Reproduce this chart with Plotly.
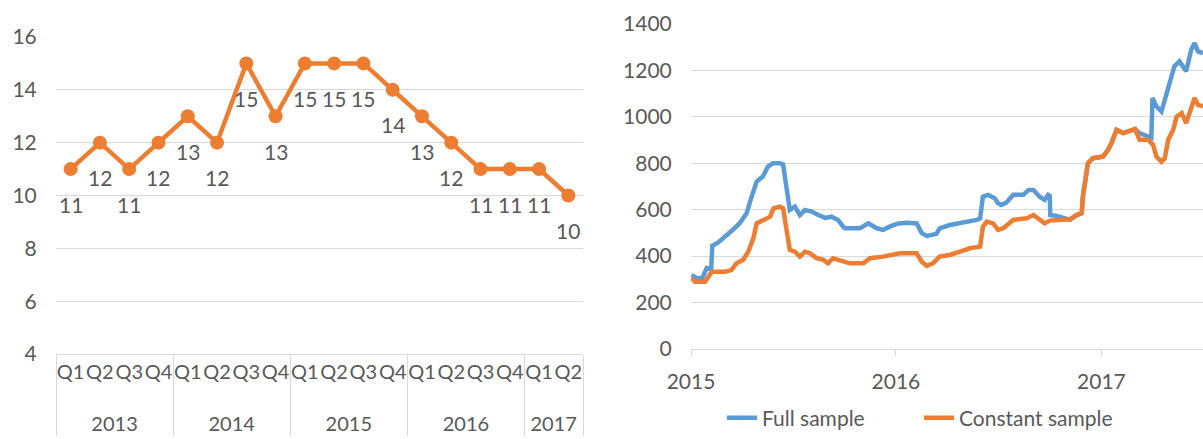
import plotly.graph_objects as go

# ---------------- Left chart data ----------------
years = ["2013"] * 4 + ["2014"] * 4 + ["2015"] * 4 + ["2016"] * 4 + ["2017"] * 2
quarters = ["Q1", "Q2", "Q3", "Q4"] * 4 + ["Q1", "Q2"]
counts = [11, 12, 11, 12, 13, 12, 15, 13, 15, 15, 15, 14, 13, 12, 11, 11, 11, 10]

# ---------------- Right chart data ----------------
full_dates = [
    "2015-01-02", "2015-01-11", "2015-01-21", "2015-01-29", "2015-02-06", "2015-02-08",
    "2015-02-18", "2015-03-03", "2015-03-11", "2015-03-20", "2015-03-29", "2015-04-10",
    "2015-04-19", "2015-04-28", "2015-05-09", "2015-05-18", "2015-05-27", "2015-06-08",
    "2015-06-14", "2015-06-20", "2015-06-26", "2015-07-05", "2015-07-14", "2015-07-23",
    "2015-08-04", "2015-08-15", "2015-08-28", "2015-09-08", "2015-09-20", "2015-09-29",
    "2015-10-02", "2015-10-29", "2015-11-13", "2015-11-28", "2015-12-09", "2015-12-21",
    "2016-01-05", "2016-01-20", "2016-02-07", "2016-02-16", "2016-02-25", "2016-03-13",
    "2016-03-19", "2016-04-06", "2016-04-24", "2016-05-06", "2016-05-24", "2016-05-30",
    "2016-06-04", "2016-06-13", "2016-06-25", "2016-07-01", "2016-07-07", "2016-07-16",
    "2016-07-28", "2016-08-15", "2016-08-24", "2016-09-02", "2016-09-13", "2016-09-22",
    "2016-09-28", "2016-10-01", "2016-10-02", "2016-10-13", "2016-10-31", "2016-11-06",
    "2016-11-18", "2016-11-27", "2016-11-29", "2016-12-06", "2016-12-08", "2016-12-17",
    "2017-01-04", "2017-01-13", "2017-01-19", "2017-01-28", "2017-02-09", "2017-02-18",
    "2017-03-02", "2017-03-10", "2017-03-25", "2017-03-31", "2017-04-02", "2017-04-09",
    "2017-04-18", "2017-04-26", "2017-05-02", "2017-05-11", "2017-05-20", "2017-06-01",
    "2017-06-10", "2017-06-16", "2017-06-22", "2017-07-01",
]
full_values = [
    319, 305, 305, 349, 345, 445,
    458, 483, 500, 521, 543, 585,
    656, 721, 743, 786, 800, 800,
    795, 685, 599, 613, 577, 599,
    592, 578, 565, 570, 556, 527,
    520, 520, 541, 520, 513, 527,
    541, 544, 541, 499, 487, 496,
    520, 534, 541, 549, 556, 563,
    656, 664, 649, 628, 620, 631,
    664, 664, 685, 685, 656, 642,
    664, 659, 577, 573, 559, 557,
    577, 585, 656, 750, 800, 822,
    829, 858, 887, 944, 930, 937,
    947, 930, 915, 910, 1081, 1045,
    1023, 1088, 1131, 1217, 1239, 1196,
    1289, 1318, 1282, 1274,
]

const_dates = [
    "2015-01-02", "2015-01-08", "2015-01-26", "2015-02-07", "2015-03-03", "2015-03-14",
    "2015-03-23", "2015-04-04", "2015-04-13", "2015-04-22", "2015-04-28", "2015-05-10",
    "2015-05-22", "2015-05-28", "2015-06-08", "2015-06-14", "2015-06-20", "2015-06-26",
    "2015-07-05", "2015-07-14", "2015-07-23", "2015-08-01", "2015-08-13", "2015-08-25",
    "2015-09-02", "2015-09-11", "2015-09-20", "2015-09-30", "2015-10-11", "2015-11-04",
    "2015-11-16", "2015-12-09", "2015-12-27", "2016-01-08", "2016-02-07", "2016-02-16",
    "2016-02-25", "2016-03-07", "2016-03-19", "2016-04-06", "2016-04-24", "2016-05-12",
    "2016-05-30", "2016-06-04", "2016-06-11", "2016-06-22", "2016-07-01", "2016-07-10",
    "2016-07-28", "2016-08-21", "2016-09-02", "2016-09-11", "2016-09-22", "2016-10-01",
    "2016-11-06", "2016-11-18", "2016-11-27", "2016-11-29", "2016-12-06", "2016-12-08",
    "2016-12-17", "2017-01-04", "2017-01-13", "2017-01-19", "2017-01-28", "2017-02-09",
    "2017-02-18", "2017-03-02", "2017-03-10", "2017-03-25", "2017-04-03", "2017-04-09",
    "2017-04-18", "2017-04-24", "2017-04-30", "2017-05-09", "2017-05-15", "2017-05-24",
    "2017-06-01", "2017-06-10", "2017-06-16", "2017-06-22", "2017-07-01",
]
const_values = [
    305, 290, 290, 333, 333, 340,
    369, 384, 419, 477, 541, 556,
    570, 606, 613, 606, 513, 427,
    419, 398, 419, 412, 391, 384,
    369, 391, 384, 376, 369, 369,
    391, 398, 405, 412, 412, 376,
    358, 369, 398, 405, 419, 434,
    441, 527, 549, 541, 513, 520,
    556, 563, 577, 563, 541, 553,
    559, 577, 585, 656, 750, 800,
    822, 829, 858, 887, 944, 930,
    937, 947, 901, 901, 880, 829,
    807, 822, 901, 944, 1001, 1016,
    973, 1030, 1081, 1052, 1045,
]

left_ticks = [4, 6, 8, 10, 12, 14, 16]
right_ticks = [0, 200, 400, 600, 800, 1000, 1200, 1400]
right_xticks = ["2015-01-01", "2016-01-01", "2017-01-01"]
right_xticklabels = ["2015", "2016", "2017"]

ORANGE = "#ED7D31"
BLUE = "#5B9BD5"
GRID = "#D9D9D9"
TXT = "#595959"
FONT = "Lato"
FS = 21

W, H = 1203, 439


def px_x(p):
    return p / W


def px_y(p):
    return (H - p) / H


fig = go.Figure()

# extra blank line under each quarter label pushes the year row lower (as in Excel)
quarter_labels = [q + "<br> " for q in quarters]

fig.add_trace(go.Scatter(
    x=[years, quarter_labels], y=counts, mode="lines+markers",
    line=dict(color=ORANGE, width=4.5), marker=dict(color=ORANGE, size=14),
    xaxis="x", yaxis="y", showlegend=False, hoverinfo="skip",
))

fig.add_trace(go.Scatter(
    x=full_dates, y=full_values, mode="lines", name="Full sample",
    line=dict(color=BLUE, width=4.5), xaxis="x2", yaxis="y2",
))
fig.add_trace(go.Scatter(
    x=const_dates, y=const_values, mode="lines", name="Constant sample",
    line=dict(color=ORANGE, width=4.5), xaxis="x2", yaxis="y2",
))

annotations = []
for i, v in enumerate(counts):
    annotations.append(dict(
        x=i, y=v, xref="x", yref="y", text=str(v), showarrow=False,
        yshift=-35, font=dict(family=FONT, size=FS, color=TXT),
    ))

fig.update_layout(
    width=W, height=H,
    margin=dict(l=0, r=0, t=0, b=0, autoexpand=False),
    paper_bgcolor="white", plot_bgcolor="white",
    font=dict(family=FONT, size=FS, color=TXT),
    annotations=annotations,
    xaxis=dict(
        type="multicategory", domain=[px_x(56), px_x(583)],
        range=[-0.5, 17.5], showgrid=False, showline=True, linecolor=GRID,
        linewidth=1, ticks="", showdividers=True, dividercolor=GRID, dividerwidth=1,
        tickangle=0, automargin=False,
        tickfont=dict(family=FONT, size=20, color=TXT), anchor="y",
    ),
    yaxis=dict(
        domain=[px_y(354), px_y(37)], range=[4, 16], tickvals=left_ticks,
        showgrid=True, gridcolor=GRID, gridwidth=1, zeroline=False, showline=False,
        ticks="outside", ticklen=14, tickcolor="rgba(0,0,0,0)", automargin=False,
        tickfont=dict(family=FONT, size=FS, color=TXT), anchor="x",
    ),
    xaxis2=dict(
        type="date", domain=[px_x(691), 1.0],
        range=["2015-01-01", "2017-07-01"], tickvals=right_xticks,
        ticktext=right_xticklabels, showgrid=False, showline=True, linecolor=GRID,
        linewidth=1, ticks="outside", ticklen=6, tickcolor=GRID, automargin=False,
        ticklabelstandoff=8,
        tickfont=dict(family=FONT, size=FS, color=TXT), anchor="y2",
    ),
    yaxis2=dict(
        domain=[px_y(349), px_y(24)], range=[0, 1400], tickvals=right_ticks,
        showgrid=True, gridcolor=GRID, gridwidth=1, zeroline=False, showline=False,
        ticks="outside", ticklen=14, tickcolor="rgba(0,0,0,0)", automargin=False,
        tickfont=dict(family=FONT, size=FS, color=TXT), anchor="x2",
    ),
    legend=dict(
        orientation="h", x=px_x(722), y=px_y(418), xanchor="left", yanchor="middle",
        entrywidth=152, entrywidthmode="pixels",
        font=dict(family=FONT, size=21, color=TXT), bgcolor="rgba(0,0,0,0)",
    ),
)

fig.write_html(
    "out.html",
    config={"displayModeBar": False},
    post_script="document.body.style.margin='0px';document.body.style.overflow='hidden';",
)
